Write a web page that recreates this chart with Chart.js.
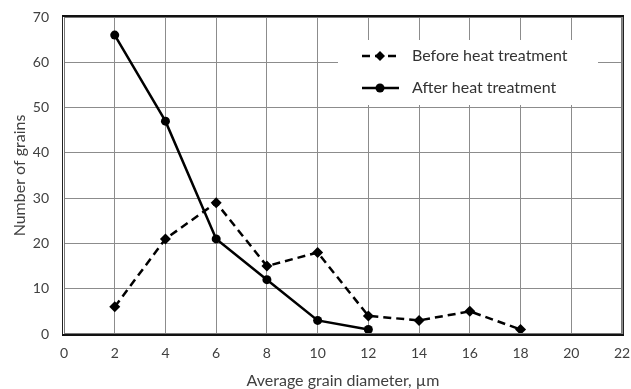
<!DOCTYPE html>
<html><head><meta charset="utf-8">
<script src="https://cdn.jsdelivr.net/npm/chart.js@4"></script>
<style>html,body{margin:0;padding:0;background:#fff}#wrap{width:631px;height:389px}</style>
</head><body><div id="wrap"><canvas id="c"></canvas></div>
<script>
const xBefore = [2,4,6,8,10,12,14,16,18];
const before = [6,21,29,15,18,4,3,5,1];
const xAfter = [2,4,6,8,10,12];
const after = [66,47,21,12,3,1];
const xTicks = [0,2,4,6,8,10,12,14,16,18,20,22];
const yTicks = [0,10,20,30,40,50,60,70];
const labels = ['Before heat treatment','After heat treatment'];

const FONT = "Lato, 'Open Sans', sans-serif";

const frame = {
  id:'frame',
  afterDraw(chart){
    const {ctx, chartArea:a} = chart;
    ctx.save();
    ctx.strokeStyle = '#222'; ctx.lineWidth = 1;
    ctx.strokeRect(a.left-1.5, a.top-1.5, a.right-a.left+3, a.bottom-a.top+3);
    ctx.strokeStyle = '#777'; ctx.lineWidth = 1;
    ctx.strokeRect(a.left+0.5, a.top+0.5, a.right-a.left-1, a.bottom-a.top-1);
    ctx.strokeStyle = '#111'; ctx.lineWidth = 2;
    ctx.beginPath(); ctx.moveTo(a.left-2, a.top-1); ctx.lineTo(a.right+2, a.top-1); ctx.stroke();
    ctx.beginPath(); ctx.moveTo(a.left-2, a.bottom+1); ctx.lineTo(a.right+2, a.bottom+1); ctx.stroke();
    ctx.restore();
  }
};

const legendBox = {
  id:'legendBox',
  afterDatasetsDraw(chart){
    const {ctx} = chart;
    const bx = 338, by = 40, bw = 260, bh = 65;
    ctx.save();
    ctx.fillStyle = '#fff';
    ctx.fillRect(bx, by, bw, bh);
    chart.data.datasets.forEach((ds, i) => {
      const cy = 56 + i*32;
      ctx.strokeStyle = ds.borderColor; ctx.lineWidth = ds.borderWidth;
      ctx.setLineDash(ds.borderDash || []);
      ctx.beginPath(); ctx.moveTo(362, cy); ctx.lineTo(399, cy); ctx.stroke();
      ctx.setLineDash([]);
      ctx.fillStyle = '#000';
      ctx.beginPath();
      if (ds.pointStyle === 'rectRot') {
        const r = 5;
        ctx.moveTo(380, cy-r); ctx.lineTo(380+r, cy); ctx.lineTo(380, cy+r); ctx.lineTo(380-r, cy); ctx.closePath();
      } else {
        ctx.arc(380, cy, 4.5, 0, Math.PI*2);
      }
      ctx.fill();
      ctx.fillStyle = '#333';
      ctx.font = "16px " + FONT;
      ctx.textBaseline = 'middle';
      ctx.fillText(ds.label, 412, cy);
    });
    ctx.restore();
  }
};

new Chart(document.getElementById('c'), {
  type:'line',
  data:{
    datasets:[
      {label:labels[0], data:xBefore.map((x,i)=>({x, y:before[i]})), borderColor:'#000', backgroundColor:'#000',
       borderWidth:2.5, borderDash:[8,5], pointStyle:'rectRot', pointRadius:5.5, pointBackgroundColor:'#000', pointBorderWidth:0},
      {label:labels[1], data:xAfter.map((x,i)=>({x, y:after[i]})), borderColor:'#000', backgroundColor:'#000',
       borderWidth:2.5, pointStyle:'circle', pointRadius:4.5, pointBackgroundColor:'#000', pointBorderWidth:0}
    ]
  },
  options:{
    responsive:true, maintainAspectRatio:false, animation:false,
    layout:{padding:{top:17, right:9, left:0, bottom:0}},
    plugins:{legend:{display:false}, tooltip:{enabled:false}},
    scales:{
      x:{type:'linear', min:0, max:22,
         afterBuildTicks(s){ s.ticks = xTicks.map(v=>({value:v})); },
         afterFit(s){ s.height = 55; s.paddingLeft = 0; s.paddingRight = 0; },
         grid:{color:'#8c8c8c', lineWidth:1, drawTicks:false},
         border:{display:false},
         ticks:{color:'#404040', font:{family:FONT, size:14}, padding:11, maxRotation:0},
         title:{display:true, text:'Average grain diameter, µm', color:'#404040', font:{family:FONT, size:16}, padding:{top:0,bottom:-1}}
      },
      y:{type:'linear', min:0, max:70,
         afterBuildTicks(s){ s.ticks = yTicks.map(v=>({value:v})); },
         afterFit(s){ s.width = 64; s.paddingTop = 0; s.paddingBottom = 0; },
         grid:{color:'#8c8c8c', lineWidth:1, drawTicks:false},
         border:{display:false},
         ticks:{color:'#404040', font:{family:FONT, size:14}, padding:15},
         title:{display:true, text:'Number of grains', color:'#404040', font:{family:FONT, size:16}, padding:{top:10,bottom:0}}
      }
    }
  },
  plugins:[frame, legendBox]
});
</script></body></html>
